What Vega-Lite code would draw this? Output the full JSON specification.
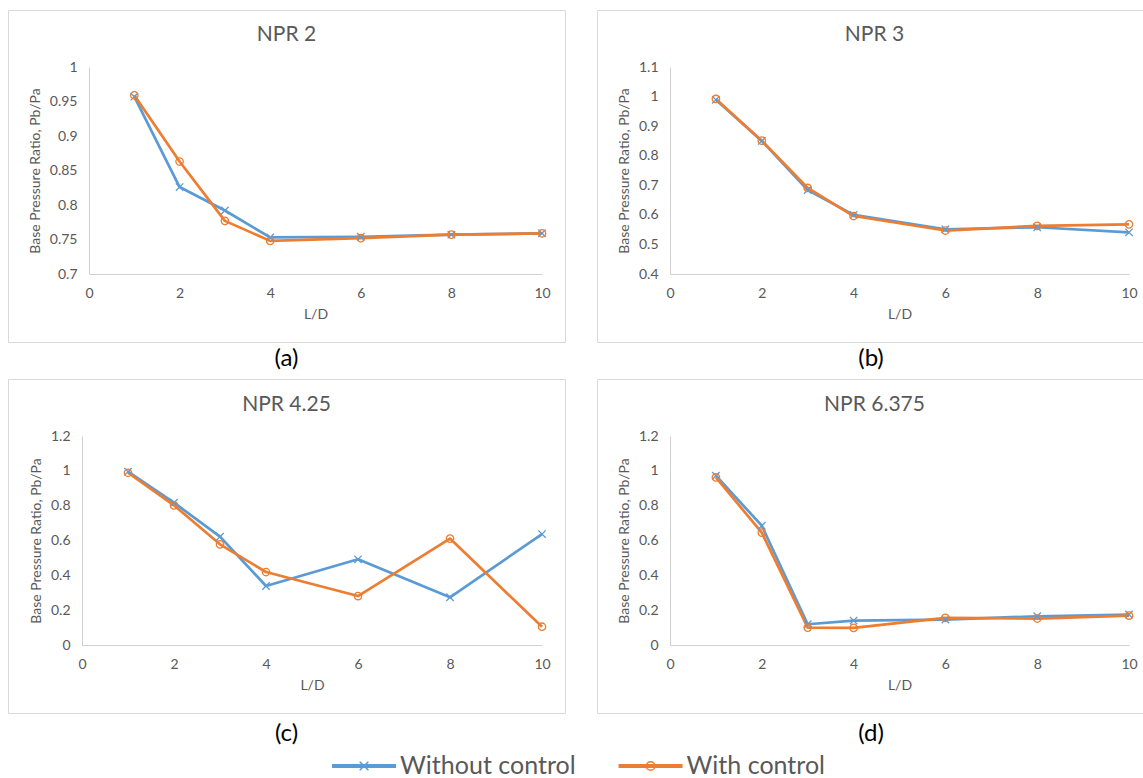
{
  "$schema": "https://vega.github.io/schema/vega-lite/v6.json",
  "padding": {"left": 7, "top": 9, "right": 0, "bottom": 0},
  "datasets": {
    "npr": [
      {"panel": "NPR 2", "series": "Without control", "LD": 1, "ratio": 0.957},
      {"panel": "NPR 2", "series": "Without control", "LD": 2, "ratio": 0.826},
      {"panel": "NPR 2", "series": "Without control", "LD": 3, "ratio": 0.792},
      {"panel": "NPR 2", "series": "Without control", "LD": 4, "ratio": 0.753},
      {"panel": "NPR 2", "series": "Without control", "LD": 6, "ratio": 0.754},
      {"panel": "NPR 2", "series": "Without control", "LD": 8, "ratio": 0.757},
      {"panel": "NPR 2", "series": "Without control", "LD": 10, "ratio": 0.759},
      {"panel": "NPR 2", "series": "With control", "LD": 1, "ratio": 0.959},
      {"panel": "NPR 2", "series": "With control", "LD": 2, "ratio": 0.863},
      {"panel": "NPR 2", "series": "With control", "LD": 3, "ratio": 0.777},
      {"panel": "NPR 2", "series": "With control", "LD": 4, "ratio": 0.748},
      {"panel": "NPR 2", "series": "With control", "LD": 6, "ratio": 0.752},
      {"panel": "NPR 2", "series": "With control", "LD": 8, "ratio": 0.757},
      {"panel": "NPR 2", "series": "With control", "LD": 10, "ratio": 0.759},
      {"panel": "NPR 3", "series": "Without control", "LD": 1, "ratio": 0.989},
      {"panel": "NPR 3", "series": "Without control", "LD": 2, "ratio": 0.85},
      {"panel": "NPR 3", "series": "Without control", "LD": 3, "ratio": 0.684},
      {"panel": "NPR 3", "series": "Without control", "LD": 4, "ratio": 0.6},
      {"panel": "NPR 3", "series": "Without control", "LD": 6, "ratio": 0.551},
      {"panel": "NPR 3", "series": "Without control", "LD": 8, "ratio": 0.558},
      {"panel": "NPR 3", "series": "Without control", "LD": 10, "ratio": 0.541},
      {"panel": "NPR 3", "series": "With control", "LD": 1, "ratio": 0.992},
      {"panel": "NPR 3", "series": "With control", "LD": 2, "ratio": 0.851},
      {"panel": "NPR 3", "series": "With control", "LD": 3, "ratio": 0.691},
      {"panel": "NPR 3", "series": "With control", "LD": 4, "ratio": 0.596},
      {"panel": "NPR 3", "series": "With control", "LD": 6, "ratio": 0.547},
      {"panel": "NPR 3", "series": "With control", "LD": 8, "ratio": 0.563},
      {"panel": "NPR 3", "series": "With control", "LD": 10, "ratio": 0.568},
      {"panel": "NPR 4.25", "series": "Without control", "LD": 1, "ratio": 0.995},
      {"panel": "NPR 4.25", "series": "Without control", "LD": 2, "ratio": 0.817},
      {"panel": "NPR 4.25", "series": "Without control", "LD": 3, "ratio": 0.622},
      {"panel": "NPR 4.25", "series": "Without control", "LD": 4, "ratio": 0.339},
      {"panel": "NPR 4.25", "series": "Without control", "LD": 6, "ratio": 0.492},
      {"panel": "NPR 4.25", "series": "Without control", "LD": 8, "ratio": 0.274},
      {"panel": "NPR 4.25", "series": "Without control", "LD": 10, "ratio": 0.637},
      {"panel": "NPR 4.25", "series": "With control", "LD": 1, "ratio": 0.989},
      {"panel": "NPR 4.25", "series": "With control", "LD": 2, "ratio": 0.802},
      {"panel": "NPR 4.25", "series": "With control", "LD": 3, "ratio": 0.578},
      {"panel": "NPR 4.25", "series": "With control", "LD": 4, "ratio": 0.419},
      {"panel": "NPR 4.25", "series": "With control", "LD": 6, "ratio": 0.281},
      {"panel": "NPR 4.25", "series": "With control", "LD": 8, "ratio": 0.611},
      {"panel": "NPR 4.25", "series": "With control", "LD": 10, "ratio": 0.105},
      {"panel": "NPR 6.375", "series": "Without control", "LD": 1, "ratio": 0.972},
      {"panel": "NPR 6.375", "series": "Without control", "LD": 2, "ratio": 0.685},
      {"panel": "NPR 6.375", "series": "Without control", "LD": 3, "ratio": 0.119},
      {"panel": "NPR 6.375", "series": "Without control", "LD": 4, "ratio": 0.14},
      {"panel": "NPR 6.375", "series": "Without control", "LD": 6, "ratio": 0.146},
      {"panel": "NPR 6.375", "series": "Without control", "LD": 8, "ratio": 0.165},
      {"panel": "NPR 6.375", "series": "Without control", "LD": 10, "ratio": 0.175},
      {"panel": "NPR 6.375", "series": "With control", "LD": 1, "ratio": 0.962},
      {"panel": "NPR 6.375", "series": "With control", "LD": 2, "ratio": 0.645},
      {"panel": "NPR 6.375", "series": "With control", "LD": 3, "ratio": 0.1},
      {"panel": "NPR 6.375", "series": "With control", "LD": 4, "ratio": 0.098},
      {"panel": "NPR 6.375", "series": "With control", "LD": 6, "ratio": 0.156},
      {"panel": "NPR 6.375", "series": "With control", "LD": 8, "ratio": 0.152},
      {"panel": "NPR 6.375", "series": "With control", "LD": 10, "ratio": 0.169}
    ]
  },
  "data": {"name": "npr"},
  "spacing": 0,
  "vconcat": [
    {
      "spacing": 30,
      "hconcat": [
        {
          "width": 557, "height": 332,
          "view": {"stroke": "#D9D9D9"},
          "title": {"text": "NPR 2", "offset": -46, "baseline": "middle"},
          "transform": [{"filter": "datum.panel === 'NPR 2'"}],
          "encoding": {
            "x": {"field": "LD", "type": "quantitative", "scale": {"domain": [0, 10], "range": [81, 534], "nice": false, "zero": false}, "axis": {"values": [0, 2, 4, 6, 8, 10], "format": "d", "title": "L/D", "offset": -68}},
            "y": {"field": "ratio", "type": "quantitative", "scale": {"domain": [0.7, 1], "range": [264, 57], "nice": false, "zero": false}, "axis": {"values": [0.7, 0.75, 0.8, 0.85, 0.9, 0.95, 1], "format": ".2~f", "title": "Base Pressure Ratio, Pb/Pa", "offset": -81}},
            "color": {"field": "series", "type": "nominal", "scale": {"domain": ["Without control", "With control"], "range": ["#5B9BD5", "#ED7D31"]}, "legend": null}
          },
          "layer": [
            {"mark": {"type": "line", "strokeWidth": 2.7, "strokeJoin": "round"}},
            {"mark": {"type": "point", "filled": false, "size": 55, "strokeWidth": 1.3, "opacity": 1},
             "encoding": {"shape": {"field": "series", "type": "nominal", "scale": {"domain": ["Without control", "With control"], "range": ["M-1,-1L1,1M-1,1L1,-1", "circle"]}, "legend": null}}}
          ]
        },
        {
          "width": 549, "height": 332,
          "view": {"stroke": "#D9D9D9"},
          "title": {"text": "NPR 3", "offset": -46, "baseline": "middle", "dx": 3},
          "transform": [{"filter": "datum.panel === 'NPR 3'"}],
          "encoding": {
            "x": {"field": "LD", "type": "quantitative", "scale": {"domain": [0, 10], "range": [73, 532], "nice": false, "zero": false}, "axis": {"values": [0, 2, 4, 6, 8, 10], "format": "d", "title": "L/D", "offset": -68}},
            "y": {"field": "ratio", "type": "quantitative", "scale": {"domain": [0.4, 1.1], "range": [264, 57], "nice": false, "zero": false}, "axis": {"values": [0.4, 0.5, 0.6, 0.7, 0.8, 0.9, 1, 1.1], "format": ".1~f", "title": "Base Pressure Ratio, Pb/Pa", "offset": -73}},
            "color": {"field": "series", "type": "nominal", "scale": {"domain": ["Without control", "With control"], "range": ["#5B9BD5", "#ED7D31"]}, "legend": null}
          },
          "layer": [
            {"mark": {"type": "line", "strokeWidth": 2.7, "strokeJoin": "round"}},
            {"mark": {"type": "point", "filled": false, "size": 55, "strokeWidth": 1.3, "opacity": 1},
             "encoding": {"shape": {"field": "series", "type": "nominal", "scale": {"domain": ["Without control", "With control"], "range": ["M-1,-1L1,1M-1,1L1,-1", "circle"]}, "legend": null}}}
          ]
        }
      ]
    },
    {
      "spacing": 30,
      "hconcat": [
        {"width": 557, "height": 35, "data": {"values": [{"caption": "(a)"}]}, "mark": {"type": "text", "fontSize": 24, "color": "#000000", "dy": -1.5}, "encoding": {"text": {"field": "caption"}}},
        {"width": 549, "height": 35, "data": {"values": [{"caption": "(b)"}]}, "mark": {"type": "text", "fontSize": 24, "color": "#000000", "dy": -1.5, "dx": 1.5}, "encoding": {"text": {"field": "caption"}}}
      ]
    },
    {
      "spacing": 30,
      "hconcat": [
        {
          "width": 557, "height": 334,
          "view": {"stroke": "#D9D9D9"},
          "title": {"text": "NPR 4.25", "offset": -47, "baseline": "middle"},
          "transform": [{"filter": "datum.panel === 'NPR 4.25'"}],
          "encoding": {
            "x": {"field": "LD", "type": "quantitative", "scale": {"domain": [0, 10], "range": [74, 534], "nice": false, "zero": false}, "axis": {"values": [0, 2, 4, 6, 8, 10], "format": "d", "title": "L/D", "offset": -68}},
            "y": {"field": "ratio", "type": "quantitative", "scale": {"domain": [0, 1.2], "range": [266, 57], "nice": false, "zero": false}, "axis": {"values": [0, 0.2, 0.4, 0.6, 0.8, 1, 1.2], "format": ".1~f", "title": "Base Pressure Ratio, Pb/Pa", "offset": -74}},
            "color": {"field": "series", "type": "nominal", "scale": {"domain": ["Without control", "With control"], "range": ["#5B9BD5", "#ED7D31"]}, "legend": null}
          },
          "layer": [
            {"mark": {"type": "line", "strokeWidth": 2.7, "strokeJoin": "round"}},
            {"mark": {"type": "point", "filled": false, "size": 55, "strokeWidth": 1.3, "opacity": 1},
             "encoding": {"shape": {"field": "series", "type": "nominal", "scale": {"domain": ["Without control", "With control"], "range": ["M-1,-1L1,1M-1,1L1,-1", "circle"]}, "legend": null}}}
          ]
        },
        {
          "width": 549, "height": 334,
          "view": {"stroke": "#D9D9D9"},
          "title": {"text": "NPR 6.375", "offset": -47, "baseline": "middle", "dx": 3},
          "transform": [{"filter": "datum.panel === 'NPR 6.375'"}],
          "encoding": {
            "x": {"field": "LD", "type": "quantitative", "scale": {"domain": [0, 10], "range": [73, 532], "nice": false, "zero": false}, "axis": {"values": [0, 2, 4, 6, 8, 10], "format": "d", "title": "L/D", "offset": -68}},
            "y": {"field": "ratio", "type": "quantitative", "scale": {"domain": [0, 1.2], "range": [266, 57], "nice": false, "zero": false}, "axis": {"values": [0, 0.2, 0.4, 0.6, 0.8, 1, 1.2], "format": ".1~f", "title": "Base Pressure Ratio, Pb/Pa", "offset": -73}},
            "color": {"field": "series", "type": "nominal", "scale": {"domain": ["Without control", "With control"], "range": ["#5B9BD5", "#ED7D31"]}, "legend": null}
          },
          "layer": [
            {"mark": {"type": "line", "strokeWidth": 2.7, "strokeJoin": "round"}},
            {"mark": {"type": "point", "filled": false, "size": 55, "strokeWidth": 1.3, "opacity": 1},
             "encoding": {"shape": {"field": "series", "type": "nominal", "scale": {"domain": ["Without control", "With control"], "range": ["M-1,-1L1,1M-1,1L1,-1", "circle"]}, "legend": null}}}
          ]
        }
      ]
    },
    {
      "spacing": 30,
      "hconcat": [
        {"width": 557, "height": 38, "data": {"values": [{"caption": "(c)"}]}, "mark": {"type": "text", "fontSize": 24, "color": "#000000", "dy": 1}, "encoding": {"text": {"field": "caption"}}},
        {"width": 549, "height": 38, "data": {"values": [{"caption": "(d)"}]}, "mark": {"type": "text", "fontSize": 24, "color": "#000000", "dx": 1.5, "dy": 1}, "encoding": {"text": {"field": "caption"}}}
      ]
    },
    {
      "width": 1136, "height": 28,
      "data": {"values": [{"series": "Without control"}, {"series": "With control"}]},
      "encoding": {
        "x": {"field": "series", "type": "nominal", "sort": ["Without control", "With control"], "scale": {"type": "band", "paddingInner": 0, "paddingOuter": 0.9825, "align": 0.378}, "axis": null},
        "color": {"field": "series", "type": "nominal", "scale": {"domain": ["Without control", "With control"], "range": ["#5B9BD5", "#ED7D31"]}, "legend": null}
      },
      "layer": [
        {"mark": {"type": "point", "shape": "M-1,0L1,0", "size": 4096, "strokeWidth": 4, "filled": false, "opacity": 1}},
        {"mark": {"type": "point", "filled": false, "size": 75, "strokeWidth": 1.5, "opacity": 1},
         "encoding": {"shape": {"field": "series", "type": "nominal", "scale": {"domain": ["Without control", "With control"], "range": ["M-1,-1L1,1M-1,1L1,-1", "circle"]}, "legend": null}}},
        {"mark": {"type": "text", "align": "left", "dx": 36, "fontSize": 25, "color": "#595959"}, "encoding": {"text": {"field": "series"}, "color": {"value": "#595959"}}}
      ]
    }
  ],
  "config": {
    "font": "Lato",
    "view": {"stroke": null},
    "axis": {"grid": false, "ticks": false, "tickSize": 0, "domainColor": "#D0D0D0", "domainWidth": 1, "labelColor": "#595959", "titleColor": "#595959", "labelFontSize": 14, "titleFontSize": 14, "titleFontWeight": "normal", "labelFlush": false, "labelPadding": 12, "titlePadding": 7, "labelFont": "Lato", "titleFont": "Lato"},
    "title": {"fontSize": 21, "fontWeight": "normal", "color": "#595959", "font": "Lato", "anchor": "middle", "frame": "group"}
  }
}
